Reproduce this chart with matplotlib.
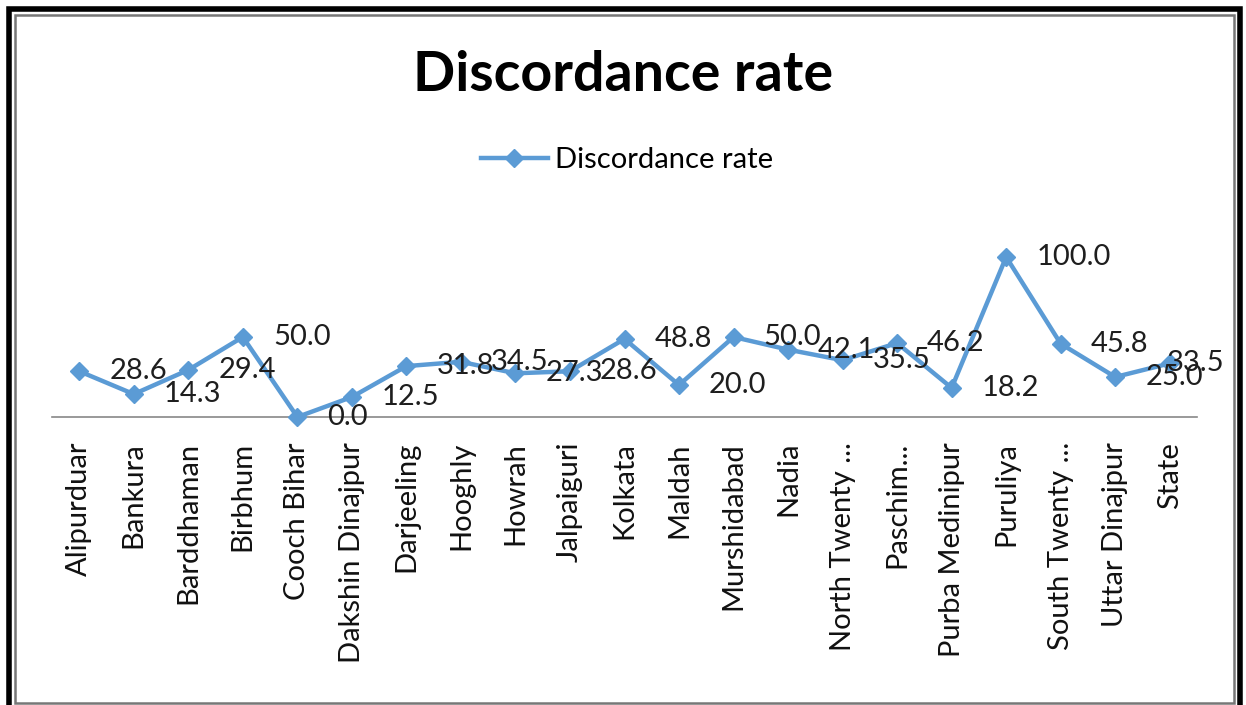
import matplotlib
matplotlib.use("Agg")
import matplotlib.pyplot as plt
from matplotlib.patches import Rectangle
from matplotlib.transforms import IdentityTransform

districts = [
    "Alipurduar", "Bankura", "Barddhaman", "Birbhum", "Cooch Bihar",
    "Dakshin Dinajpur", "Darjeeling", "Hooghly", "Howrah", "Jalpaiguri",
    "Kolkata", "Maldah", "Murshidabad", "Nadia", "North Twenty ...",
    "Paschim...", "Purba Medinipur", "Puruliya", "South Twenty ...",
    "Uttar Dinajpur", "State",
]
discordance_rate = [
    28.6, 14.3, 29.4, 50.0, 0.0, 12.5, 31.8, 34.5, 27.3, 28.6,
    48.8, 20.0, 50.0, 42.1, 35.5, 46.2, 18.2, 100.0, 45.8, 25.0, 33.5,
]

W, H, DPI = 1246, 705, 100
LINE_BLUE = "#5B9BD5"
FONT = "Lato"

plt.rcParams["font.family"] = [FONT, "DejaVu Sans"]

fig = plt.figure(figsize=(W / DPI, H / DPI), dpi=DPI)
fig.patch.set_facecolor("white")

# plot area in pixel terms: x 52..1197, y(0)=417, y(120)=225 from top
ax = fig.add_axes([52 / W, (H - 417) / H, (1197 - 52) / W, (417 - 225) / H])
ax.set_facecolor("none")

x = list(range(len(districts)))
line, = ax.plot(x, discordance_rate, color=LINE_BLUE, linewidth=3.2,
                marker="D", markersize=9, markerfacecolor=LINE_BLUE,
                markeredgecolor=LINE_BLUE, label="Discordance rate",
                clip_on=False, zorder=3)

# value labels sit to the right of each point; the last one is pulled
# back so it stays inside the frame
for xi, v in zip(x, discordance_rate):
    dx = 30 if xi < len(districts) - 1 else -3
    ax.annotate(f"{v:.1f}", xy=(xi, v), xytext=(dx, 0),
                textcoords="offset pixels", ha="left", va="center",
                fontsize=21, color="#1e1e1e", zorder=4,
                annotation_clip=False)

ax.set_xlim(-0.5, len(districts) - 0.5)
ax.set_ylim(0, 120)
for side in ("top", "right", "left"):
    ax.spines[side].set_visible(False)
ax.spines["bottom"].set_color("#888888")
ax.spines["bottom"].set_linewidth(1.2)
ax.set_yticks([])
ax.set_xticks(x)
ax.set_xticklabels(districts, rotation=90, ha="center", va="top",
                   fontsize=21, color="#111111")
ax.tick_params(axis="x", length=0, pad=18)

fig.text(623 / W, (H - 75) / H, "Discordance rate", ha="center", va="center",
         fontsize=40, fontweight="bold", color="black")

leg = fig.legend(handles=[line], loc="center", bbox_to_anchor=(627 / W, (H - 160) / H),
                 frameon=False, fontsize=21, handlelength=2.3, handletextpad=0.25,
                 borderaxespad=0)

# double frame around the chart
fig.add_artist(Rectangle((8.5, -10), 1231.5, H - 8.5 + 10, transform=IdentityTransform(),
                         fill=False, edgecolor="black", linewidth=4.0))
fig.add_artist(Rectangle((14.5, 2.5), 1219.5, H - 17, transform=IdentityTransform(),
                         fill=False, edgecolor="#777777", linewidth=1.8))

fig.savefig("out.png", dpi=DPI, facecolor="white")
